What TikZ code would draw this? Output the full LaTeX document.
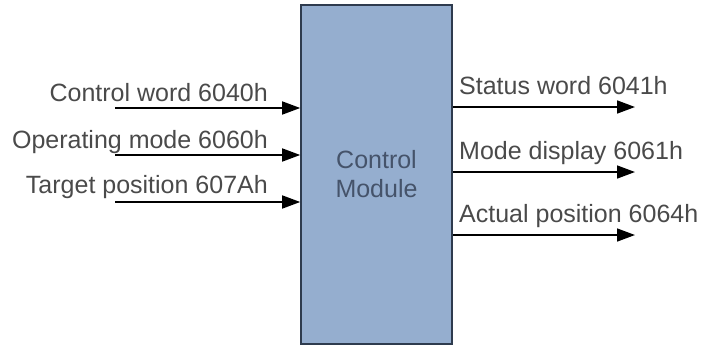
\documentclass[tikz,border=0pt]{standalone}
\usepackage{fontspec}
\setmainfont{Liberation Sans}
\usetikzlibrary{arrows.meta}
\definecolor{boxfill}{HTML}{95AECF}
\definecolor{boxline}{HTML}{2E3B4E}
\definecolor{txt}{HTML}{4A4A4A}
\definecolor{boxtxt}{HTML}{45536A}
\begin{document}
\begin{tikzpicture}[x=1pt,y=-1pt,
  lbl/.style={text=txt,font=\fontsize{25}{29}\selectfont,inner sep=0pt},
  sig/.style={line width=1.6pt,-{Triangle[length=18pt,width=13pt]}},
  module/.style={draw=boxline,line width=1.6pt,fill=boxfill,minimum width=151pt,minimum height=339pt,inner sep=0pt,text=boxtxt,font=\fontsize{25}{29}\selectfont,align=center}]
\useasboundingbox (0,0) rectangle (707,349);
\node[module] (cm) at (376.5,174.5) {Control\\Module};
% inputs
\node[lbl,anchor=base east] (l1) at (268,101) {Control word 6040h};
\node[lbl,anchor=base east] (l2) at (268,148) {Operating mode 6060h};
\node[lbl,anchor=base east] (l3) at (268,193) {Target position 607Ah};
\coordinate (i1) at (115,108);
\coordinate (i2) at (115,155);
\coordinate (i3) at (115,202);
\draw[sig] (i1) -- (i1 -| cm.west);
\draw[sig] (i2) -- (i2 -| cm.west);
\draw[sig] (i3) -- (i3 -| cm.west);
% outputs
\node[lbl,anchor=base west] (r1) at (459,94) {Status word 6041h};
\node[lbl,anchor=base west] (r2) at (459,159) {Mode display 6061h};
\node[lbl,anchor=base west] (r3) at (459,222) {Actual position 6064h};
\coordinate (o1) at (635,107);
\coordinate (o2) at (635,172);
\coordinate (o3) at (635,235);
\draw[sig] (o1 -| cm.east) -- (o1);
\draw[sig] (o2 -| cm.east) -- (o2);
\draw[sig] (o3 -| cm.east) -- (o3);
\end{tikzpicture}
\end{document}
